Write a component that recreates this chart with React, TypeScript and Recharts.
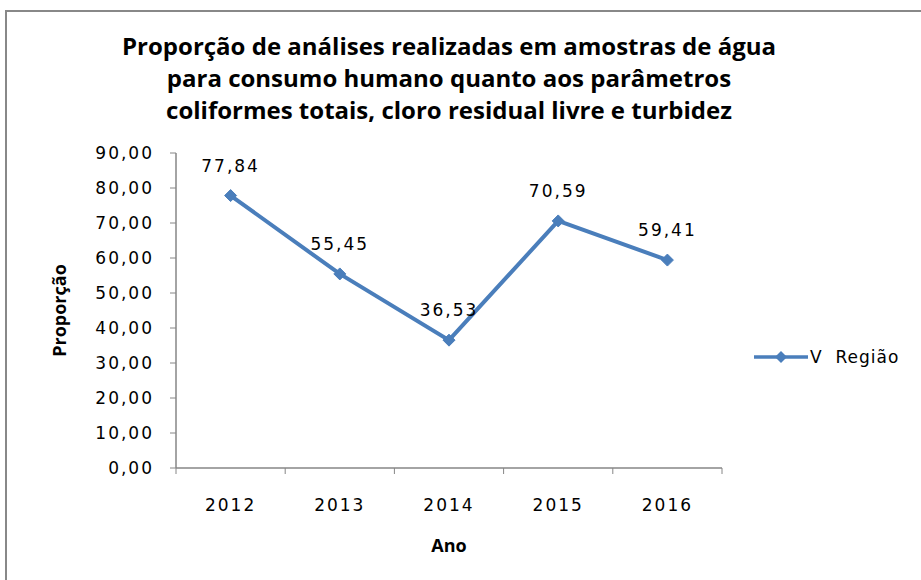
import React from 'react';
import { LineChart, Line, XAxis, YAxis, LabelList } from 'recharts';

const anos = ['2012', '2013', '2014', '2015', '2016'];
const proporcao = [77.84, 55.45, 36.53, 70.59, 59.41];
const yTicks = [0, 10, 20, 30, 40, 50, 60, 70, 80, 90];
const tituloLinhas = [
  'Proporção de análises realizadas em amostras de água',
  'para consumo humano quanto aos parâmetros',
  'coliformes totais, cloro residual livre e turbidez',
];
const serieNome = 'V  Região';

const data = anos.map((ano, i) => ({ ano, valor: proporcao[i] }));

const BLUE = '#4A7EBB';
const AXIS = '#868686';
const tickFont = "'DejaVu Sans', sans-serif";
const titleFont = "'Open Sans', 'Noto Sans', sans-serif";

const W = 921;
const H = 580;
const M = { top: 153, right: 199, bottom: 0, left: 0 };
const Y_W = 176;
const X_H = 112;
const step = (W - M.left - M.right - Y_W) / anos.length;

const fmt = (v: number) => v.toFixed(2).replace('.', ',');

const Diamond = (props: any) => {
  const { cx, cy } = props;
  if (cx == null || cy == null) return null;
  const r = 6;
  return (
    <path
      d={`M${cx},${cy - r}L${cx + r},${cy}L${cx},${cy + r}L${cx - r},${cy}Z`}
      fill={BLUE}
      stroke={BLUE}
    />
  );
};

// tick label in the middle of each category, tick marks at the category edges
const YearTick = (props: any) => {
  const { x, y, payload, index } = props;
  const top = y - 25 - 6;
  const last = index === anos.length - 1;
  return (
    <g>
      <line x1={x - step / 2} y1={top} x2={x - step / 2} y2={top + 6} stroke={AXIS} />
      {last && <line x1={x + step / 2} y1={top} x2={x + step / 2} y2={top + 6} stroke={AXIS} />}
      <text x={x} y={y} dy="0.71em" textAnchor="middle" fill="#000" fontSize={17} fontFamily={tickFont} letterSpacing={2}>
        {payload.value}
      </text>
    </g>
  );
};

const LegendBox = () => (
  <svg width={165} height={24}>
    <line x1={2} y1={12} x2={56} y2={12} stroke={BLUE} strokeWidth={3.5} />
    <path d="M29,6L35,12L29,18L23,12Z" fill={BLUE} />
    <text x={58} y={18} fontFamily={tickFont} fontSize={17} letterSpacing={1} fill="#000" style={{ whiteSpace: 'pre' }}>
      {serieNome}
    </text>
  </svg>
);

export default function App() {
  return (
    <div style={{ position: 'absolute', left: 0, top: 0, width: W, height: H, overflow: 'hidden', background: '#fff' }}>
      <div
        style={{
          position: 'absolute',
          left: 5,
          top: 10,
          width: 1000,
          height: 1000,
          borderLeft: '2px solid #888',
          borderTop: '2px solid #888',
        }}
      />
      <div style={{ position: 'absolute', left: 0, top: 0 }}>
        <LineChart width={W} height={H} data={data} margin={M}>
          {tituloLinhas.map((t, i) => (
            <text
              key={i}
              x={449}
              y={55 + i * 32}
              textAnchor="middle"
              fontFamily={titleFont}
              fontWeight="bold"
              fontSize={24}
              fill="#000"
            >
              {t}
            </text>
          ))}
          <XAxis
            dataKey="ano"
            height={X_H}
            padding={{ left: step / 2, right: step / 2 }}
            axisLine={{ stroke: AXIS, strokeWidth: 1.5 }}
            tickLine={false}
            tick={<YearTick />}
            tickMargin={25}
            interval={0}
            label={{ value: 'Ano', position: 'insideBottom', offset: 28, fill: '#000', fontSize: 18, fontWeight: 'bold', fontFamily: titleFont }}
          />
          <YAxis
            domain={[0, 90]}
            ticks={yTicks}
            tickFormatter={fmt}
            width={Y_W}
            axisLine={{ stroke: AXIS, strokeWidth: 1.5 }}
            tickLine={{ stroke: AXIS }}
            tickSize={6}
            tickMargin={16}
            tick={{ fill: '#000', fontSize: 17, fontFamily: tickFont, letterSpacing: 2 }}
            label={{
              value: 'Proporção',
              angle: -90,
              position: 'insideLeft',
              offset: 60,
              fill: '#000',
              fontSize: 18,
              fontWeight: 'bold',
              fontFamily: titleFont,
              style: { textAnchor: 'middle' },
            }}
          />
          <Line
            type="linear"
            dataKey="valor"
            name={serieNome}
            stroke={BLUE}
            strokeWidth={4}
            dot={<Diamond />}
            activeDot={false}
            isAnimationActive={false}
          >
            <LabelList
              dataKey="valor"
              position="top"
              offset={24}
              formatter={(v: any) => fmt(Number(v))}
              fill="#000"
              fontSize={17}
              fontFamily={tickFont}
              letterSpacing={2}
            />
          </Line>
        </LineChart>
      </div>
      <div style={{ position: 'absolute', left: 752, top: 345 }}>
        <LegendBox />
      </div>
    </div>
  );
}
